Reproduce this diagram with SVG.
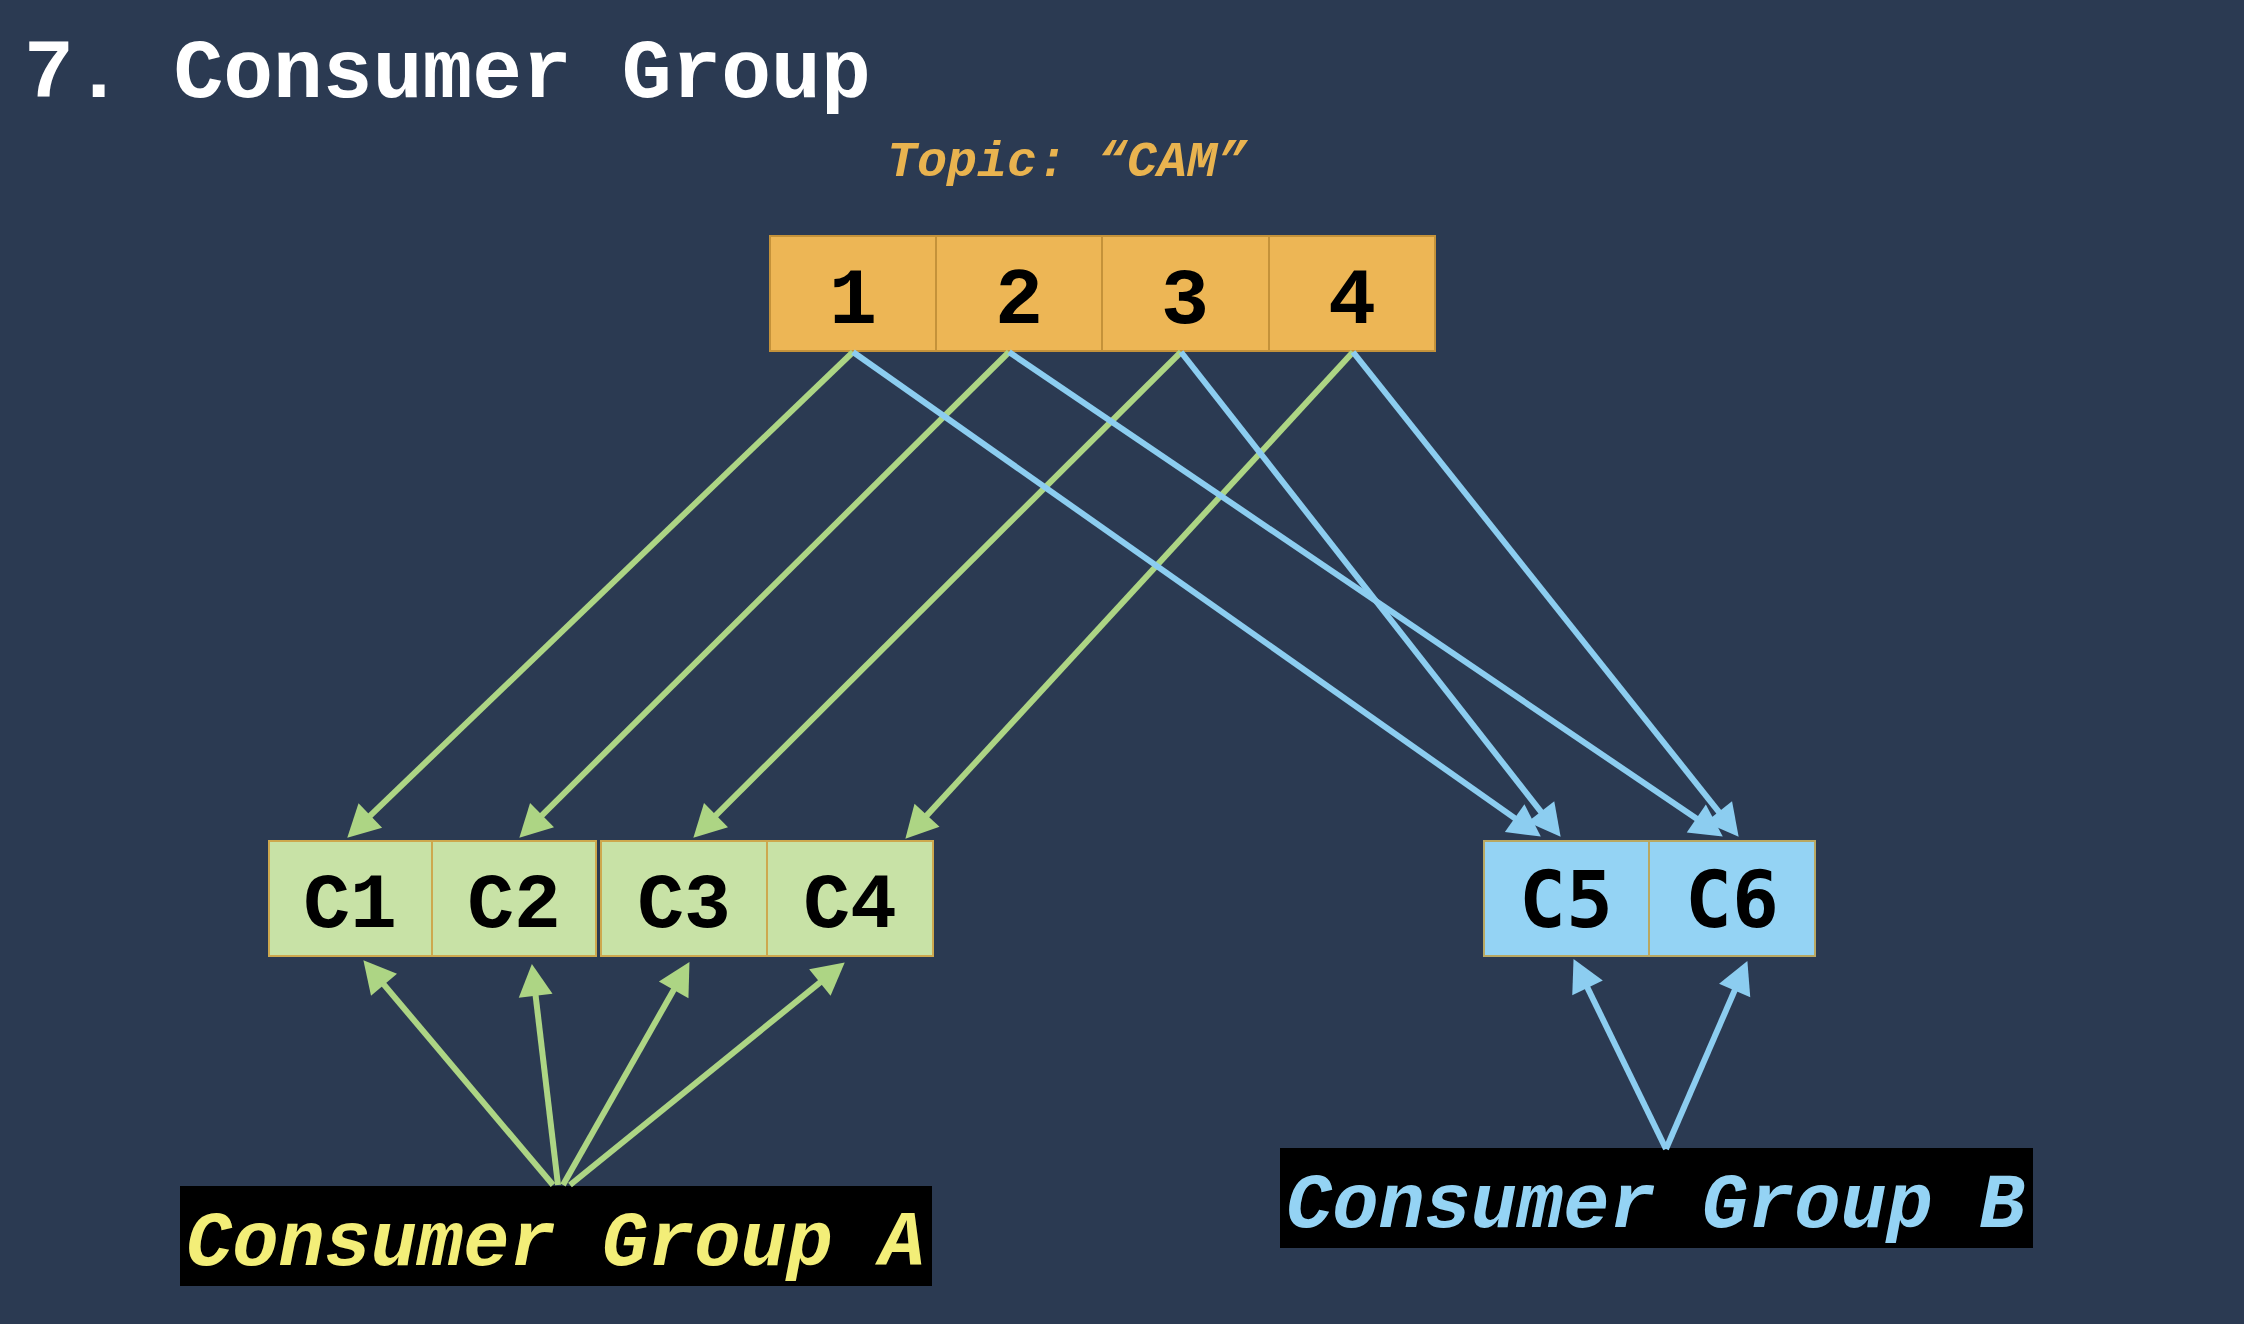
<svg xmlns="http://www.w3.org/2000/svg" width="2244" height="1324" viewBox="0 0 2244 1324">
<style>
.mono{font-family:"Liberation Mono","Courier New",monospace;font-weight:bold}
.num{font-size:80px;fill:#000;text-anchor:middle}
.clbl{font-size:78px;fill:#000;text-anchor:middle}
.part{fill:#EDB655;stroke:#C4923A;stroke-width:2}
.cg{fill:#C8E2A6;stroke:#CDA84E;stroke-width:2}
.cb{fill:#94D3F4;stroke:#B9A862;stroke-width:2}
.g{stroke:#ADD584;stroke-width:6;fill:none;marker-end:url(#ag)}
.b{stroke:#8CCDF0;stroke-width:6;fill:none;marker-end:url(#ab)}
.grp{font-size:77px;font-style:italic}
</style>
<defs>
<marker id="ag" markerUnits="userSpaceOnUse" markerWidth="32" markerHeight="34" viewBox="0 0 32 34" refX="25" refY="17" orient="auto" overflow="visible">
<path d="M0,0 L32,17 L0,34 z" fill="#ADD584"/>
</marker>
<marker id="ab" markerUnits="userSpaceOnUse" markerWidth="32" markerHeight="34" viewBox="0 0 32 34" refX="25" refY="17" orient="auto" overflow="visible">
<path d="M0,0 L32,17 L0,34 z" fill="#8CCDF0"/>
</marker>
</defs>
<rect x="0" y="0" width="2244" height="1324" fill="#2B3A52"/>

<g id="title">
<text class="mono" x="24" y="97" font-size="83" fill="#FFFFFF">7. Consumer Group</text>
</g>
<g id="topic-label">
<text class="mono" x="887" y="176" font-size="50" font-style="italic" fill="#E9B34F">Topic: “CAM”</text>
</g>

<g id="partition-1"><rect class="part" x="770" y="236" width="166" height="115"/><text class="mono num" x="853" y="323">1</text></g>
<g id="partition-2"><rect class="part" x="936" y="236" width="166" height="115"/><text class="mono num" x="1019" y="323">2</text></g>
<g id="partition-3"><rect class="part" x="1102" y="236" width="167" height="115"/><text class="mono num" x="1185" y="323">3</text></g>
<g id="partition-4"><rect class="part" x="1269" y="236" width="166" height="115"/><text class="mono num" x="1352" y="323">4</text></g>

<g id="c1"><rect class="cg" x="269" y="841" width="163" height="115"/><text class="mono clbl" x="350" y="927">C1</text></g>
<g id="c2"><rect class="cg" x="432" y="841" width="164" height="115"/><text class="mono clbl" x="514" y="927">C2</text></g>
<g id="c3"><rect class="cg" x="601" y="841" width="166" height="115"/><text class="mono clbl" x="684" y="927">C3</text></g>
<g id="c4"><rect class="cg" x="767" y="841" width="166" height="115"/><text class="mono clbl" x="850" y="927">C4</text></g>
<g id="c5"><rect class="cb" x="1484" y="841" width="165" height="115"/><text class="clbl" x="1566" y="927" font-family="'DejaVu Sans Mono',monospace" font-weight="bold">C5</text></g>
<g id="c6"><rect class="cb" x="1649" y="841" width="166" height="115"/><text class="clbl" x="1732" y="927" font-family="'DejaVu Sans Mono',monospace" font-weight="bold">C6</text></g>

<g id="group-a">
<rect x="180" y="1186" width="752" height="100" fill="#000000"/>
<text class="mono grp" x="186" y="1265" fill="#F3EE78">Consumer Group A</text>
</g>
<g id="group-b">
<rect x="1280" y="1148" width="753" height="100" fill="#000000"/>
<text class="mono grp" x="1286" y="1227" fill="#94D3F4">Consumer Group B</text>
</g>

<g id="connectors">
<line class="g" x1="853" y1="352" x2="352.3" y2="832.8"/>
<line class="g" x1="1009" y1="352" x2="524.3" y2="832.8"/>
<line class="g" x1="1181" y1="352" x2="698.3" y2="832.8"/>
<line class="g" x1="1353" y1="352" x2="910.1" y2="833.6"/>
<line class="b" x1="853" y1="352" x2="1535.1" y2="832.5"/>
<line class="b" x1="1181" y1="352" x2="1556.3" y2="831.3"/>
<line class="b" x1="1009" y1="352" x2="1717" y2="832.6"/>
<line class="b" x1="1353" y1="352" x2="1734.3" y2="831.3"/>
<line class="g" x1="553" y1="1185" x2="367.9" y2="965.6"/>
<line class="g" x1="558" y1="1185" x2="532.7" y2="971"/>
<line class="g" x1="563" y1="1185" x2="686" y2="968.2"/>
<line class="g" x1="570" y1="1185" x2="839.3" y2="966.8"/>
<line class="b" x1="1666" y1="1149" x2="1576.6" y2="965.4"/>
<line class="b" x1="1666" y1="1149" x2="1744.6" y2="967.5"/>
</g>
</svg>
